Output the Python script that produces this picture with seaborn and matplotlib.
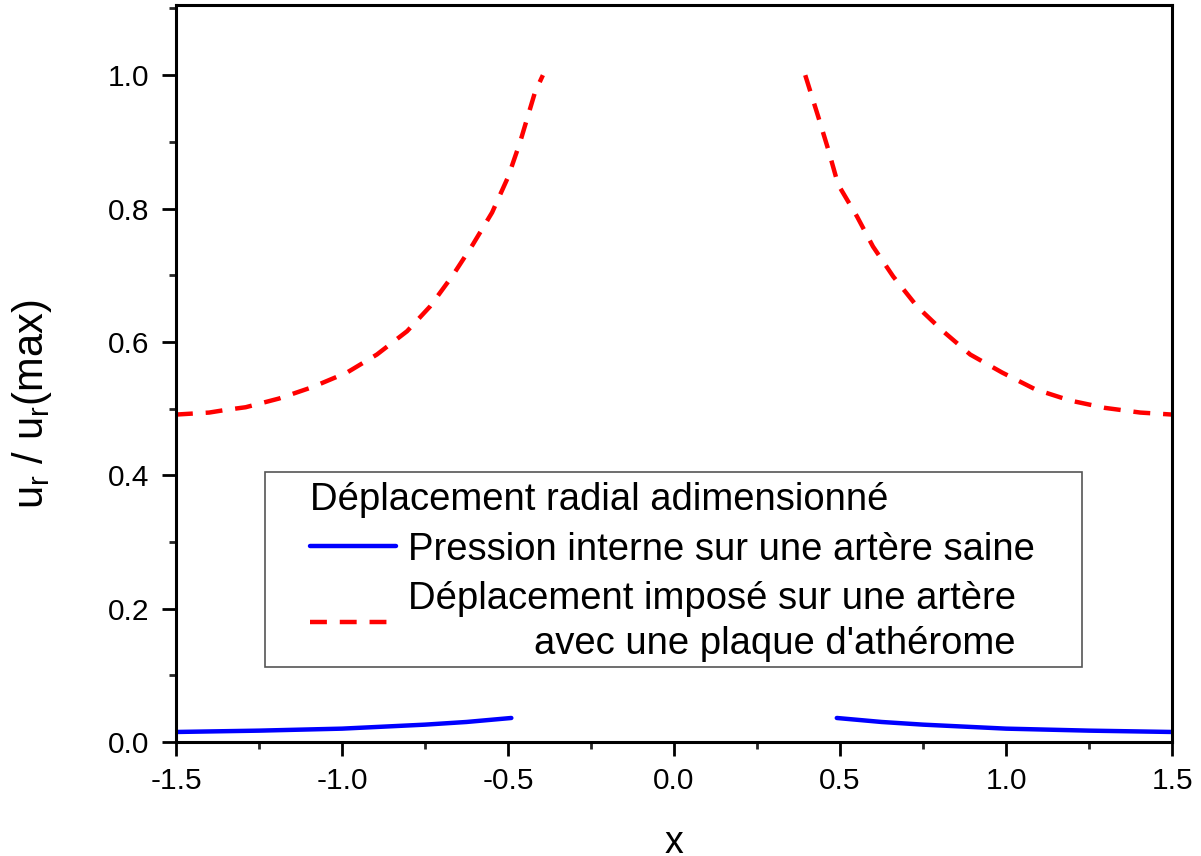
import numpy as np
import pandas as pd
import matplotlib
matplotlib.use("Agg")
import matplotlib.pyplot as plt
import seaborn as sns
from matplotlib.patches import Rectangle
from matplotlib.ticker import MultipleLocator

# Data
# imposed displacement, artery with atheroma plaque (red dashed)
red_x_left = [-1.50, -1.40, -1.35, -1.29, -1.19, -1.09, -0.985, -0.895, -0.804,
              -0.735, -0.666, -0.606, -0.548, -0.500, -0.464, -0.434, -0.419, -0.395]
red_y_left = [0.491, 0.494, 0.498, 0.502, 0.515, 0.532, 0.554, 0.581, 0.616,
              0.653, 0.700, 0.746, 0.794, 0.847, 0.899, 0.949, 0.974, 1.000]
red_x_right = [0.395, 0.434, 0.464, 0.494, 0.551, 0.599, 0.660, 0.732, 0.810,
               0.892, 0.988, 1.087, 1.193, 1.298, 1.404, 1.50]
red_y_right = [1.000, 0.938, 0.889, 0.836, 0.788, 0.743, 0.698, 0.653, 0.616,
               0.581, 0.554, 0.529, 0.512, 0.501, 0.494, 0.491]

# internal pressure, healthy artery (blue solid)
blue_x_left = [-1.50, -1.25, -1.00, -0.875, -0.75, -0.625, -0.49]
blue_y_left = [0.015, 0.017, 0.020, 0.023, 0.026, 0.030, 0.036]
blue_x_right = [0.49, 0.625, 0.75, 0.875, 1.00, 1.25, 1.50]
blue_y_right = [0.036, 0.030, 0.026, 0.023, 0.020, 0.017, 0.015]

x_ticks = [-1.5, -1.0, -0.5, 0.0, 0.5, 1.0, 1.5]
x_tick_labels = ["-1.5", "-1.0", "-0.5", "0.0", "0.5", "1.0", "1.5"]

legend_title = "Déplacement radial adimensionné"
label_blue = "Pression interne sur une artère saine"
label_red = "Déplacement imposé sur une artère\navec une plaque d'athérome"

sns.set_style("ticks")
plt.rcParams['font.family'] = ['Liberation Sans', 'DejaVu Sans']
plt.rcParams['mathtext.default'] = 'regular'
plt.rcParams['text.color'] = 'black'
plt.rcParams['axes.labelcolor'] = 'black'

fig = plt.figure(figsize=(12.01, 8.56), dpi=100)
ax = fig.add_axes([0.1465, 0.1332, 0.8295, 0.8608])

lw = 3.2
sns.lineplot(x=blue_x_left, y=blue_y_left, ax=ax, color='#0000ff', lw=lw,
             label=label_blue, sort=False)
sns.lineplot(x=blue_x_right, y=blue_y_right, ax=ax, color='#0000ff', lw=lw,
             sort=False)
sns.lineplot(x=red_x_left, y=red_y_left, ax=ax, color='#ff0000', lw=lw,
             sort=False, label=label_red)
sns.lineplot(x=red_x_right, y=red_y_right, ax=ax, color='#ff0000', lw=lw,
             sort=False)
for ln in ax.lines[2:]:
    ln.set_linestyle((0, (3.8, 2.9)))

ax.set_xlim(-1.5, 1.5)
ax.set_ylim(0, 1.105)
ax.set_xticks(x_ticks)
ax.set_xticklabels(x_tick_labels)
ax.xaxis.set_minor_locator(MultipleLocator(0.25))
ax.yaxis.set_major_locator(MultipleLocator(0.2))
ax.yaxis.set_minor_locator(MultipleLocator(0.1))

for s in ax.spines.values():
    s.set_linewidth(2.2)
    s.set_color('black')
ax.tick_params(which='major', direction='out', length=10, width=2,
               labelsize=21.5, colors='black')
ax.tick_params(which='minor', direction='out', length=5, width=2)
ax.tick_params(axis='x', which='major', pad=8)
ax.tick_params(axis='y', which='major', pad=9)
ax.tick_params(top=False, right=False, which='both')

ax.set_xlabel("x", fontsize=27)
ax.xaxis.set_label_coords(0.5, -0.113)
ax.set_ylabel(r"$u_r$ / $u_r$(max)", fontsize=30)
ax.yaxis.set_label_coords(-0.122, 0.458)

# legend frame, wider on the left like the reference
ax.add_patch(Rectangle((0.0894, 0.1019), 0.8202, 0.265, transform=ax.transAxes,
                       facecolor='white', edgecolor='#555555', lw=1.2,
                       zorder=4))
leg = ax.legend(title=legend_title, loc='upper left',
                bbox_to_anchor=(0.135, 0.353), borderaxespad=0, borderpad=0,
                fontsize=27.5, title_fontsize=27.5, frameon=False,
                handlelength=2.25, handletextpad=0.3, alignment='left',
                labelspacing=0.36)
leg.set_zorder(5)
leg.get_texts()[1].set_multialignment('right')
leg.get_texts()[1].set_linespacing(1.3)

fig.savefig("out.png", dpi=100)
